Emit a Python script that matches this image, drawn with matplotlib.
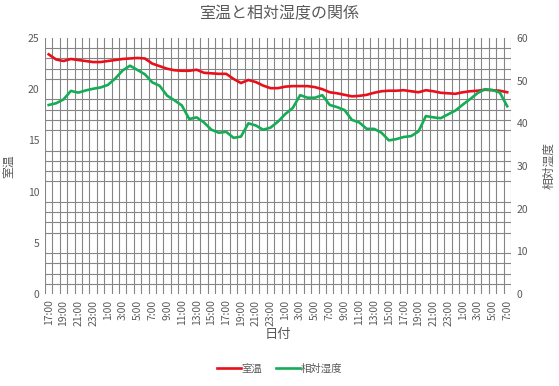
import matplotlib
matplotlib.use("Agg")
import matplotlib.pyplot as plt
import numpy as np

plt.rcParams['font.family'] = ['Noto Sans CJK JP', 'DejaVu Sans']

# hourly readings, 17:00 day 1 .. 7:00 day 3
times = ["{}:00".format((17 + i) % 24) for i in range(63)]

room_temp = [23.4, 22.9, 22.75, 22.95, 22.85, 22.75, 22.65, 22.65, 22.75, 22.85,
             22.95, 23.0, 23.05, 23.0, 22.5, 22.25, 22.0, 21.85, 21.8, 21.8,
             21.9, 21.6, 21.55, 21.5, 21.5, 21.0, 20.6, 20.9, 20.7, 20.35,
             20.1, 20.1, 20.25, 20.3, 20.3, 20.3, 20.2, 20.0, 19.7, 19.6,
             19.45, 19.3, 19.35, 19.45, 19.65, 19.8, 19.85, 19.85, 19.9, 19.8,
             19.7, 19.9, 19.8, 19.65, 19.6, 19.55, 19.7, 19.8, 19.85, 19.95,
             19.9, 19.85, 19.7]

humidity = [44.3, 44.7, 45.6, 47.6, 47.2, 47.7, 48.1, 48.4, 49.0, 50.5,
            52.4, 53.5, 52.5, 51.5, 49.6, 48.8, 46.5, 45.4, 44.2, 41.0,
            41.4, 40.2, 38.5, 37.8, 38.0, 36.6, 36.9, 40.0, 39.5, 38.5,
            39.0, 40.4, 42.2, 43.6, 46.6, 46.0, 46.0, 46.6, 44.3, 43.8,
            43.1, 40.8, 40.2, 38.7, 38.7, 37.8, 36.0, 36.3, 36.8, 37.0,
            38.1, 41.7, 41.4, 41.2, 42.1, 43.0, 44.4, 45.7, 47.1, 48.0,
            47.8, 47.2, 44.0]

red = '#E8101A'
green = '#14AD55'
grid_c = '#858585'
txt_c = '#595959'

fig = plt.figure(figsize=(5.59, 3.86), dpi=100)
ax = fig.add_axes([0.0805, 0.2383, 0.8335, 0.6633])
ax2 = ax.twinx()

x = np.arange(len(times))
l1, = ax.plot(x, room_temp, c=red, lw=1.9, label='室温')
l2, = ax2.plot(x, humidity, c=green, lw=1.9, label='相対湿度')

ax.set_xlim(-0.5, len(times) - 0.5)
ax.set_ylim(0, 25)
ax2.set_ylim(0, 60)
ax.set_yticks(np.arange(0, 26, 5))
ax2.set_yticks(np.arange(0, 61, 10))
ax.set_xticks(x[::2])
ax.set_xticklabels(times[::2], rotation=90)

# grid: one vertical line per category boundary, horizontal every 1 degree
ax.set_xticks(np.arange(-0.5, len(times)), minor=True)
ax.set_yticks(np.arange(0, 26, 1), minor=True)
ax.grid(which='minor', color=grid_c, lw=0.8)
ax.grid(which='major', visible=False)
ax.set_axisbelow(True)

for a in (ax, ax2):
    for s in a.spines.values():
        s.set_visible(False)
    a.tick_params(which='both', length=0, labelsize=7.5, colors=txt_c, pad=4)

ax.set_ylabel('室温', fontsize=8.5, color=txt_c, labelpad=9)
ax2.set_ylabel('相対湿度', fontsize=8.5, color=txt_c, rotation=90, labelpad=10)
ax.set_xlabel('日付', fontsize=9.5, color=txt_c, labelpad=2)

fig.suptitle('室温と相対湿度の関係', fontsize=11.5, color=txt_c, y=0.985)

fig.legend(handles=[l1, l2], loc='center', bbox_to_anchor=(0.5, 0.044), ncol=2,
           frameon=False, fontsize=7.5, handlelength=2.3, handletextpad=0.1,
           columnspacing=1.3, labelcolor=txt_c)

fig.savefig('out.png', dpi=100)
